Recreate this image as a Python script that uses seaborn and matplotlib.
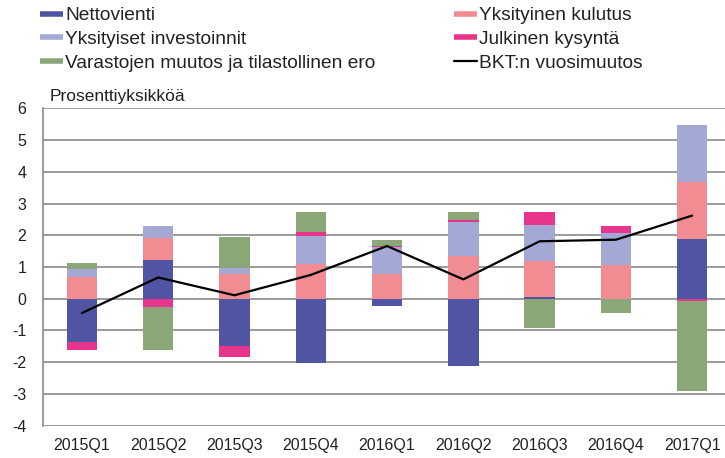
import numpy as np
import pandas as pd
import matplotlib
matplotlib.use("Agg")
import matplotlib.pyplot as plt
import seaborn as sns
from matplotlib.lines import Line2D

# ─── DATA ────────────────────────────────────────────────────
quarters = ["2015Q1", "2015Q2", "2015Q3", "2015Q4", "2016Q1",
            "2016Q2", "2016Q3", "2016Q4", "2017Q1"]

nettovienti   = [-1.36, 1.22, -1.49, -2.02, -0.22, -2.12, 0.07, 0.00, 1.88]
kulutus       = [0.69, 0.70, 0.78, 1.09, 0.78, 1.34, 1.12, 1.06, 1.81]
investoinnit  = [0.24, 0.38, 0.20, 0.90, 0.86, 1.08, 1.12, 1.02, 1.79]
julkinen      = [-0.24, -0.27, -0.34, 0.10, 0.03, 0.05, 0.42, 0.22, -0.06]
varastot      = [0.21, -1.34, 0.98, 0.65, 0.17, 0.26, -0.93, -0.46, -2.84]
bkt           = [-0.45, 0.67, 0.11, 0.75, 1.66, 0.61, 1.81, 1.86, 2.62]

labels = ["Nettovienti", "Yksityinen kulutus", "Yksityiset investoinnit",
          "Julkinen kysyntä", "Varastojen muutos ja tilastollinen ero"]
colors = ["#4F55A3", "#F08C92", "#A3A8D5", "#E8348A", "#8BA677"]
line_label = "BKT:n vuosimuutos"

# ─── STYLE ───────────────────────────────────────────────────
sns.set_style("white")
plt.rcParams['font.family'] = ['Liberation Sans', 'DejaVu Sans']
plt.rcParams['text.color'] = '#222222'
plt.rcParams['axes.unicode_minus'] = False

fig = plt.figure(figsize=(7.25, 4.58), dpi=100)
ax = fig.add_axes([43 / 725, 1 - 425.7 / 458, 1 - 43 / 725, (425.7 - 108.3) / 458])

# ─── STACKED BARS (layered cumulative sums, positive and negative separately) ───
comps = np.array([nettovienti, kulutus, investoinnit, julkinen, varastot])
pos = np.clip(comps, 0, None).cumsum(axis=0)
neg = np.clip(comps, None, 0).cumsum(axis=0)

x_pos = np.arange(len(quarters))
for i in reversed(range(len(labels))):
    for stack in (pos, neg):
        df = pd.DataFrame({"q": x_pos, "v": stack[i]})
        sns.barplot(data=df, x="q", y="v", color=colors[i], width=0.4,
                    saturation=1, linewidth=0, ax=ax, native_scale=True)

# GDP line
sns.lineplot(x=x_pos, y=bkt, color="black", linewidth=1.6, ax=ax)

# ─── AXES ────────────────────────────────────────────────────
ax.set_xlim(-0.51, 8.43)
ax.set_ylim(-4, 6)
ax.set_yticks(range(-4, 7))
ax.set_xticks(x_pos)
ax.set_xticklabels(quarters)
ax.set_xlabel("")
ax.set_ylabel("")
ax.tick_params(axis="both", length=0, labelsize=11.5, colors="#222222")
ax.tick_params(axis="y", pad=12)
ax.tick_params(axis="x", pad=9)
ax.set_axisbelow(True)
ax.yaxis.grid(True, color="#8a8a8a", linewidth=1.2)
ax.xaxis.grid(False)
for side in ["top", "right", "bottom"]:
    ax.spines[side].set_visible(False)
ax.spines["left"].set_color("#8a8a8a")
ax.spines["left"].set_linewidth(1.2)

fig.text(50 / 725, 1 - 97 / 458, "Prosenttiyksikköä", fontsize=12.5,
         va="center", ha="left")

# ─── LEGEND (two columns placed separately) ──────────────────
def patch(c):
    return Line2D([], [], color=c, linewidth=4, solid_capstyle="butt")

left_items = [(patch(colors[0]), labels[0]), (patch(colors[2]), labels[2]),
              (patch(colors[4]), labels[4])]
right_items = [(patch(colors[1]), labels[1]), (patch(colors[3]), labels[3]),
               (Line2D([], [], color="black", linewidth=1.6), line_label)]

leg_kw = dict(loc="upper left", frameon=False, fontsize=13.8, borderpad=0,
              borderaxespad=0, handlelength=1.2, handletextpad=0.12,
              labelspacing=0.33)
for items, x0 in ((left_items, 40), (right_items, 454)):
    leg = fig.legend([h for h, _ in items], [t for _, t in items],
                     bbox_to_anchor=(x0 / 725, 1 - 7 / 458), **leg_kw)

fig.savefig("out.png", dpi=100)
